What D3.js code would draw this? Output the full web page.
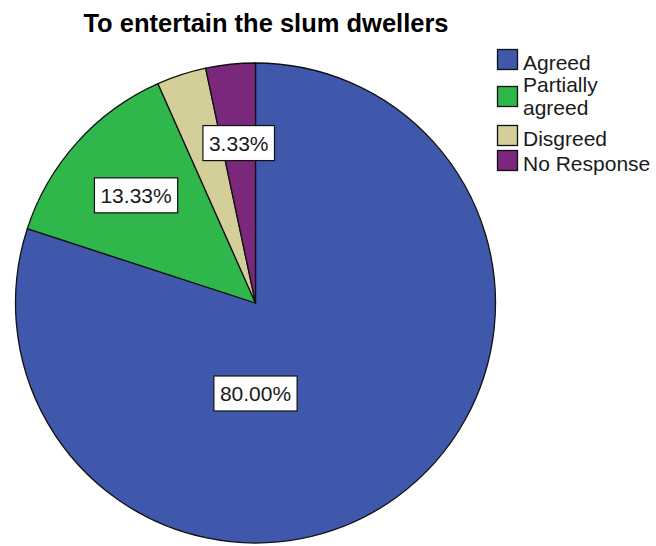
<!DOCTYPE html>
<html>
<head>
<meta charset="utf-8">
<script src="https://cdn.jsdelivr.net/npm/d3@7"></script>
<style>
  html, body { margin: 0; padding: 0; background: #fff; }
  svg { display: block; }
  text { font-family: "Liberation Sans", Arial, Helvetica, sans-serif; }
</style>
</head>
<body>
<svg id="chart" width="656" height="546"></svg>
<script>
// Survey responses: "To entertain the slum dwellers"
const titleText = "To entertain the slum dwellers";
const categories = ["Agreed", "Partially agreed", "Disgreed", "No Response"];
const legendLines = [["Agreed"], ["Partially", "agreed"], ["Disgreed"], ["No Response"]];
const percents = [80.00, 13.33, 3.33, 3.33];
const colors = ["#3f58ab", "#2fb74b", "#d4ce98", "#7b277c"];

const svg = d3.select("#chart");
const cx = 255.5, cy = 303, R = 240;

// Title
svg.append("text")
  .attr("x", 266).attr("y", 32)
  .attr("text-anchor", "middle")
  .attr("font-size", 25.5).attr("font-weight", "bold")
  .attr("fill", "#000")
  .text(titleText);

// Pie: clockwise from 12 o'clock, in category order
const data = categories.map((c, i) => ({ name: c, value: percents[i], color: colors[i] }));
const pie = d3.pie().value(d => d.value).sort(null);
const arcs = pie(data);
const arc = d3.arc().innerRadius(0).outerRadius(R);

const g = svg.append("g").attr("transform", `translate(${cx},${cy})`);
g.selectAll("path.slice")
  .data(arcs)
  .join("path")
  .attr("class", "slice")
  .attr("d", arc)
  .attr("fill", d => d.data.color)
  .attr("stroke", "#111")
  .attr("stroke-width", 1.3)
  .attr("stroke-linejoin", "round");

// Value labels in white boxes; a slice larger than half the pie is labelled
// below the centre, the others along their mid-angle. Labels that would
// collide with one already placed are dropped (placed from last to first).
const fmt = v => v.toFixed(2) + "%";
const labelFont = 21;
const placed = [];
const labelG = g.append("g");
arcs.slice().reverse().forEach(a => {
  const span = a.endAngle - a.startAngle;
  const ang = span > Math.PI ? Math.PI : (a.startAngle + a.endAngle) / 2;
  const rr = span > Math.PI ? 0.377 * R : 0.67 * R;
  const x = Math.sin(ang) * rr;
  const y = -Math.cos(ang) * rr;
  const t = labelG.append("text")
    .attr("x", x).attr("y", y)
    .attr("text-anchor", "middle")
    .attr("dominant-baseline", "central")
    .attr("font-size", labelFont)
    .attr("fill", "#1a1a1a")
    .text(fmt(a.data.value));
  const bb = t.node().getBBox();
  const box = { x: bb.x - 6, y: y - 17.5, w: bb.width + 12, h: 35 };
  const hit = placed.some(p => box.x < p.x + p.w && box.x + box.w > p.x && box.y < p.y + p.h && box.y + box.h > p.y);
  if (hit) { t.remove(); return; }
  placed.push(box);
  labelG.insert("rect", "text")
    .attr("x", box.x).attr("y", box.y)
    .attr("width", box.w).attr("height", box.h)
    .attr("fill", "#fff")
    .attr("stroke", "#111")
    .attr("stroke-width", 1.2);
});
// keep text above its box
labelG.selectAll("text").raise();

// Legend
const legendX = 497.5, legendTop = 49.5, sw = 21;
const lineGap = 23.8;
let rowTop = legendTop;
const leg = svg.append("g");
data.forEach((d, i) => {
  const lines = legendLines[i];
  const multi = lines.length > 1;
  const rowH = 25 + (lines.length - 1) * 26;
  const swY = multi ? rowTop + 12 : rowTop;
  leg.append("rect")
    .attr("x", legendX).attr("y", swY)
    .attr("width", sw - 1).attr("height", sw - 1)
    .attr("fill", d.color)
    .attr("stroke", "#111").attr("stroke-width", 1.3);
  const firstBase = multi ? rowTop + 17 : rowTop + 20;
  lines.forEach((ln, j) => {
    leg.append("text")
      .attr("x", 523)
      .attr("y", firstBase + j * lineGap)
      .attr("font-size", 21)
      .attr("fill", "#1a1a1a")
      .text(ln);
  });
  rowTop += rowH;
});
</script>
</body>
</html>
